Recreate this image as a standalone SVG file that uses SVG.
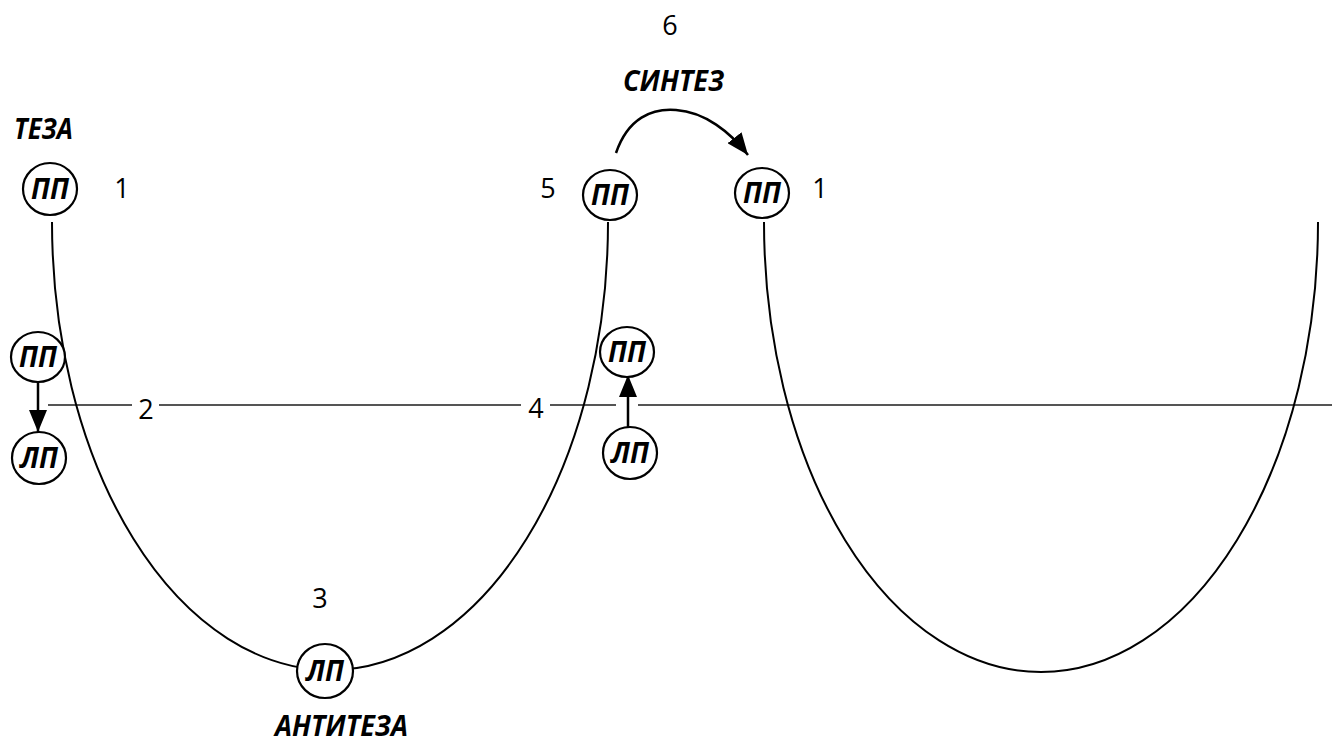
<svg xmlns="http://www.w3.org/2000/svg" width="1332" height="744" viewBox="0 0 1332 744">
<style>
.lbl{font-family:"Open Sans","Liberation Sans",sans-serif;font-weight:bold;font-style:italic;font-size:28px;fill:#000}
.num{font-family:"Open Sans","Liberation Sans",sans-serif;font-size:27px;fill:#000;text-anchor:middle}
.nd{fill:#fff;stroke:#000;stroke-width:2.2}
.nt{font-family:"Open Sans","Liberation Sans",sans-serif;font-weight:bold;font-style:italic;font-size:29px;fill:#000;text-anchor:middle}
.curve{fill:none;stroke:#000;stroke-width:2}
.axis{stroke:#555;stroke-width:2}
.arr{fill:none;stroke:#000;stroke-width:2.5}
</style>
<defs>
<marker id="ah" markerUnits="userSpaceOnUse" markerWidth="22" markerHeight="18" viewBox="0 0 22 18" refX="22" refY="9" orient="auto">
<path d="M0 0 L22 9 L0 18 z" fill="#000"/>
</marker>
</defs>
<rect width="1332" height="744" fill="#fff"/>
<g id="connectors">
<path class="axis" d="M48 405 H132 M159 405 H521 M550 405 H616 M638 405 H1332"/>
<path class="curve" d="M52 222 A278 448 0 0 0 608 222"/>
<path class="curve" d="M764 222 A277 450 0 0 0 1318 222"/>
<line class="arr" x1="38" y1="382" x2="38" y2="432" marker-end="url(#ah)"/>
<line class="arr" x1="628" y1="427" x2="628" y2="375" marker-end="url(#ah)"/>
<path class="arr" d="M616 153 C628 118 652 108 676 110 C705 112 730 132 748 155" marker-end="url(#ah)"/>
</g>
<g id="labels">
<text class="lbl" x="14" y="139" textLength="59" lengthAdjust="spacingAndGlyphs">ТЕЗА</text>
<text class="lbl" x="623" y="91" textLength="101" lengthAdjust="spacingAndGlyphs">СИНТЕЗ</text>
<text class="lbl" x="275" y="736" textLength="133" lengthAdjust="spacingAndGlyphs">АНТИТЕЗА</text>
<text class="num" x="122" y="198">1</text>
<text class="num" x="146" y="419">2</text>
<text class="num" x="320" y="608">3</text>
<text class="num" x="536" y="418">4</text>
<text class="num" x="548" y="198">5</text>
<text class="num" x="670" y="35">6</text>
<text class="num" x="820" y="198">1</text>
</g>
<g id="n1"><ellipse class="nd" cx="50" cy="189" rx="27" ry="26"/><text class="nt" x="50" y="199" textLength="38" lengthAdjust="spacingAndGlyphs">ПП</text></g>
<g id="n2a"><ellipse class="nd" cx="38" cy="357" rx="27" ry="25"/><text class="nt" x="38" y="367" textLength="38" lengthAdjust="spacingAndGlyphs">ПП</text></g>
<g id="n2b"><ellipse class="nd" cx="39" cy="458" rx="27" ry="26"/><text class="nt" x="39" y="468" textLength="38" lengthAdjust="spacingAndGlyphs">ЛП</text></g>
<g id="n3"><ellipse class="nd" cx="325" cy="671" rx="28" ry="27"/><text class="nt" x="325" y="681" textLength="38" lengthAdjust="spacingAndGlyphs">ЛП</text></g>
<g id="n4a"><ellipse class="nd" cx="627" cy="352" rx="27" ry="25"/><text class="nt" x="627" y="362" textLength="38" lengthAdjust="spacingAndGlyphs">ПП</text></g>
<g id="n4b"><ellipse class="nd" cx="630" cy="453" rx="27" ry="26"/><text class="nt" x="630" y="463" textLength="38" lengthAdjust="spacingAndGlyphs">ЛП</text></g>
<g id="n5"><ellipse class="nd" cx="610" cy="195" rx="27" ry="25"/><text class="nt" x="610" y="205" textLength="38" lengthAdjust="spacingAndGlyphs">ПП</text></g>
<g id="n6"><ellipse class="nd" cx="762" cy="193" rx="27" ry="25"/><text class="nt" x="762" y="203" textLength="38" lengthAdjust="spacingAndGlyphs">ПП</text></g>
</svg>
